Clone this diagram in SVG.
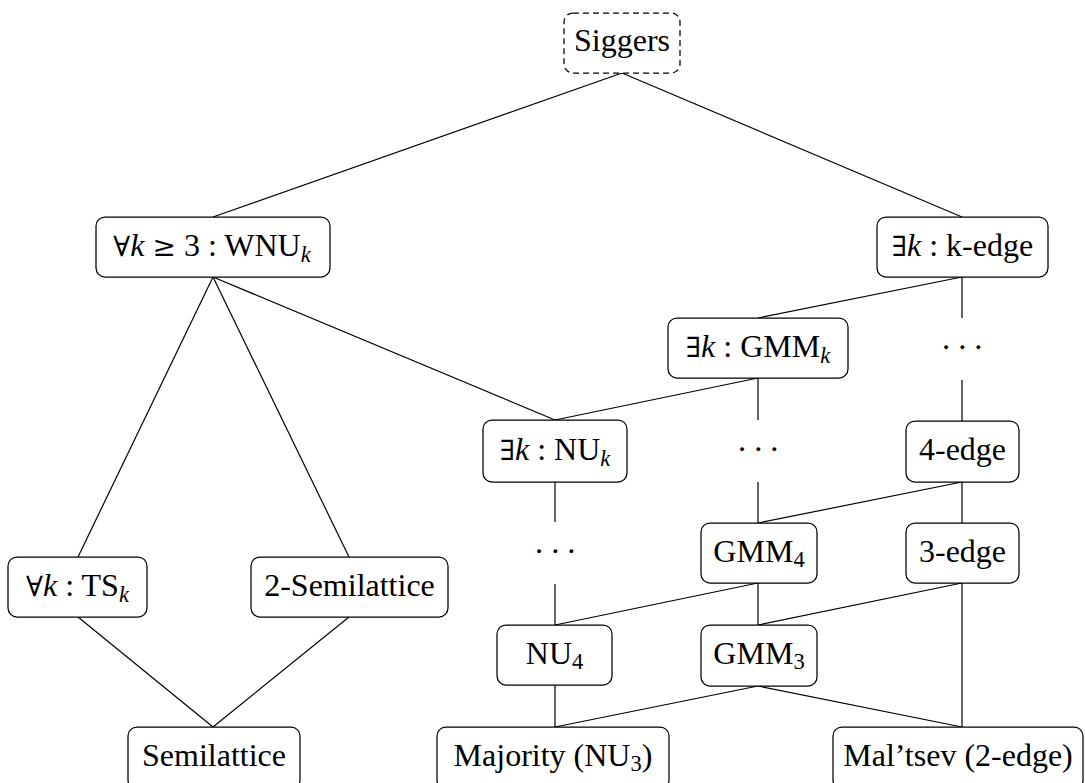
<svg xmlns="http://www.w3.org/2000/svg" width="1085" height="783" viewBox="0 0 1085 783">
<style>
.box{fill:#fff;stroke:#000;stroke-width:1.25}
.dash{stroke-dasharray:6 4}
.t{font-size:32px;fill:#000;text-anchor:middle}
.i{font-style:italic}
.s{font-size:22.5px}
.m{font-family:"DejaVu Serif",serif;font-size:28px}
.dots{font-size:32px;fill:#000;text-anchor:middle;letter-spacing:5.5px}
#edges line{stroke:#000;stroke-width:1.2}
</style>
<rect width="1085" height="783" fill="#fff"/>
<g id="edges">
<line x1="622" y1="73" x2="213" y2="217"/>
<line x1="622" y1="73" x2="962" y2="217"/>
<line x1="213" y1="277" x2="78" y2="557"/>
<line x1="213" y1="277" x2="349" y2="557"/>
<line x1="213" y1="277" x2="555" y2="420"/>
<line x1="962" y1="277" x2="758" y2="318"/>
<line x1="962" y1="277" x2="962" y2="318"/>
<line x1="962" y1="380" x2="962" y2="421"/>
<line x1="758" y1="378" x2="555" y2="420"/>
<line x1="758" y1="378" x2="758" y2="420"/>
<line x1="758" y1="482" x2="758" y2="523"/>
<line x1="555" y1="482" x2="555" y2="522"/>
<line x1="555" y1="584" x2="555" y2="625"/>
<line x1="962" y1="482" x2="758" y2="523"/>
<line x1="962" y1="482" x2="962" y2="523"/>
<line x1="758" y1="583" x2="555" y2="625"/>
<line x1="758" y1="583" x2="758" y2="625"/>
<line x1="962" y1="583" x2="758" y2="625"/>
<line x1="962" y1="583" x2="962" y2="727"/>
<line x1="555" y1="685" x2="555" y2="727"/>
<line x1="758" y1="686" x2="555" y2="727"/>
<line x1="758" y1="686" x2="962" y2="727"/>
<line x1="78" y1="617" x2="213" y2="727"/>
<line x1="349" y1="617" x2="213" y2="727"/>
</g>
<g font-family="'Liberation Serif', 'DejaVu Serif', serif">
<g id="siggers"><rect class="box dash" x="564" y="13" width="116" height="60" rx="9"/><text class="t" x="622" y="51">Siggers</text></g>
<g id="wnu"><rect class="box" x="96" y="217" width="234" height="60" rx="9"/><text class="t" x="212" y="256"><tspan class="m">∀</tspan><tspan class="i">k</tspan> <tspan class="m">≥</tspan> 3 : WNU<tspan class="s i" dy="6">k</tspan></text></g>
<g id="kedge"><rect class="box" x="877" y="217" width="171" height="60" rx="9"/><text class="t" x="962.5" y="256"><tspan class="m">∃</tspan><tspan class="i">k</tspan> : k-edge</text></g>
<g id="gmmk"><rect class="box" x="668" y="318" width="180" height="60" rx="9"/><text class="t" x="758" y="357"><tspan class="m">∃</tspan><tspan class="i">k</tspan> : GMM<tspan class="s i" dy="6">k</tspan></text></g>
<g id="dots-edge"><text class="dots" x="965" y="358">···</text></g>
<g id="nuk"><rect class="box" x="483" y="420" width="144" height="62" rx="9"/><text class="t" x="555" y="460"><tspan class="m">∃</tspan><tspan class="i">k</tspan> : NU<tspan class="s i" dy="6">k</tspan></text></g>
<g id="dots-gmm"><text class="dots" x="761" y="460">···</text></g>
<g id="edge4"><rect class="box" x="906" y="421" width="113" height="61" rx="9"/><text class="t" x="962.5" y="460">4-edge</text></g>
<g id="dots-nu"><text class="dots" x="558" y="562">···</text></g>
<g id="gmm4"><rect class="box" x="701" y="523" width="116" height="60" rx="9"/><text class="t" x="759" y="562">GMM<tspan class="s" dy="5">4</tspan></text></g>
<g id="edge3"><rect class="box" x="906" y="523" width="113" height="60" rx="9"/><text class="t" x="962.5" y="562">3-edge</text></g>
<g id="ts"><rect class="box" x="8" y="557" width="139" height="60" rx="9"/><text class="t" x="77.5" y="596"><tspan class="m">∀</tspan><tspan class="i">k</tspan> : TS<tspan class="s i" dy="6">k</tspan></text></g>
<g id="semi2"><rect class="box" x="251" y="557" width="197" height="60" rx="9"/><text class="t" x="349.5" y="596">2-Semilattice</text></g>
<g id="nu4"><rect class="box" x="497" y="625" width="115" height="60" rx="9"/><text class="t" x="554.5" y="664">NU<tspan class="s" dy="5">4</tspan></text></g>
<g id="gmm3"><rect class="box" x="701" y="625" width="116" height="61" rx="9"/><text class="t" x="759" y="664">GMM<tspan class="s" dy="5">3</tspan></text></g>
<g id="semilattice"><rect class="box" x="128" y="727" width="172" height="62" rx="9"/><text class="t" x="214" y="766">Semilattice</text></g>
<g id="majority"><rect class="box" x="437" y="727" width="232" height="62" rx="9"/><text class="t" x="553" y="766">Majority (NU<tspan class="s" dy="5">3</tspan><tspan dy="-5">)</tspan></text></g>
<g id="maltsev"><rect class="box" x="833" y="727" width="250" height="62" rx="9"/><text class="t" x="958" y="766">Mal’tsev (2-edge)</text></g>
</g>
</svg>
